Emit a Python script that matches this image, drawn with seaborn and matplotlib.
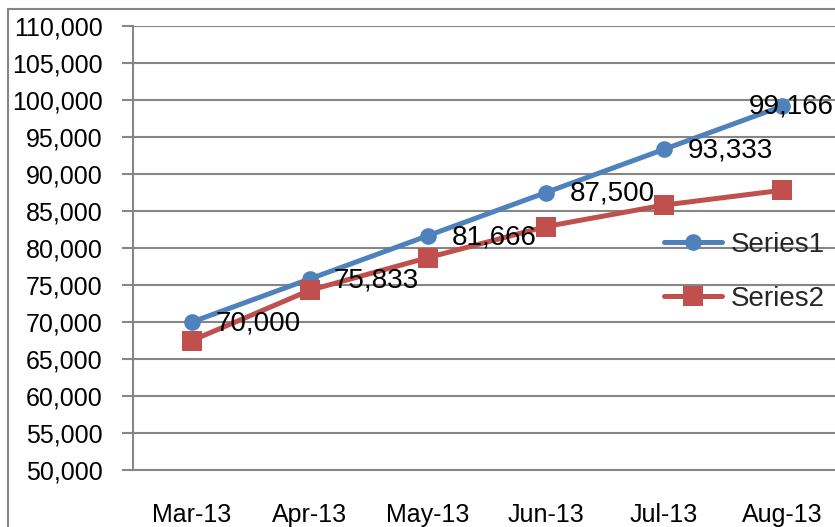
import numpy as np
import pandas as pd
import matplotlib
matplotlib.use("Agg")
import matplotlib.pyplot as plt
from matplotlib.patches import Rectangle
from matplotlib.ticker import FuncFormatter
import seaborn as sns

categories = ["Mar-13", "Apr-13", "May-13", "Jun-13", "Jul-13", "Aug-13"]
series1 = [70000, 75833, 81666, 87500, 93333, 99166]
series2 = [67500, 74300, 78700, 82900, 85800, 87800]
series_names = ["Series1", "Series2"]
y_ticks = list(range(50000, 110001, 5000))

df = pd.DataFrame({
    "month": categories * 2,
    "value": series1 + series2,
    "series": [series_names[0]] * len(categories) + [series_names[1]] * len(categories),
})

sns.set_theme(style="white")
plt.rcParams["font.family"] = ["Liberation Sans", "DejaVu Sans"]

W, H = 835, 527
fig = plt.figure(figsize=(W / 100, H / 100), dpi=100)
ax = fig.add_axes([133 / W, 1 - 470 / H, 708 / W, 444 / H])

grid_col = "#868686"
blue = "#4F81BD"
red = "#C0504D"

sns.lineplot(data=df, x="month", y="value", hue="series", style="series",
             markers={"Series1": "o", "Series2": "s"}, dashes=False,
             palette={"Series1": blue, "Series2": red},
             markersize=12, linewidth=3.6, markeredgewidth=0,
             sort=False, ax=ax, legend=True)
for line in ax.get_lines():
    if line.get_marker() == "s":
        line.set_markersize(15)

ax.set_xlim(-0.5, len(categories) - 0.5)
ax.set_ylim(y_ticks[0], y_ticks[-1])
ax.set_yticks(y_ticks)
ax.yaxis.set_major_formatter(FuncFormatter(lambda v, p: f"{int(v):,}"))
ax.set_xticks(range(len(categories)))
ax.set_xticklabels(categories)
ax.set_xticks(np.arange(-0.5, len(categories)), minor=True)
ax.tick_params(axis="x", which="major", length=0, pad=24, labelsize=18, colors="black")
ax.tick_params(axis="x", which="minor", length=8, width=1.5, color=grid_col, direction="out")
ax.tick_params(axis="y", which="major", length=8, width=1.5, color=grid_col, pad=14,
               labelsize=18, labelcolor="black", left=True)
ax.set_xlabel("")
ax.set_ylabel("")
ax.grid(axis="y", color=grid_col, linewidth=1.5)
ax.set_axisbelow(True)
for s in ["top", "right"]:
    ax.spines[s].set_visible(False)
for s in ["left", "bottom"]:
    ax.spines[s].set_color(grid_col)
    ax.spines[s].set_linewidth(1.5)

for i, v in enumerate(series1):
    if i == len(series1) - 1:
        ax.annotate(f"{v:,}", xy=(1.0, v), xycoords=("figure fraction", "data"),
                    xytext=(-1, 0), textcoords="offset points",
                    ha="right", va="center", fontsize=20, color="black", zorder=10)
    else:
        ax.annotate(f"{v:,}", xy=(i, v), xytext=(17, -1), textcoords="offset points",
                    ha="left", va="center", fontsize=20, color="black", zorder=10)

handles, labels = ax.get_legend_handles_labels()
ax.get_legend().remove()
fig.legend(handles, labels, loc="upper left", bbox_to_anchor=(664 / W, 1 - 232 / H),
           frameon=False, fontsize=20, handlelength=2.1, handletextpad=0.32,
           labelspacing=1.0, borderpad=0, borderaxespad=0)

fig.add_artist(Rectangle((8 / W, -0.1), 1.2, 1.1 - 9 / H, transform=fig.transFigure,
                         fill=False, edgecolor=grid_col, linewidth=1.5))

fig.savefig("out.png", dpi=100)
